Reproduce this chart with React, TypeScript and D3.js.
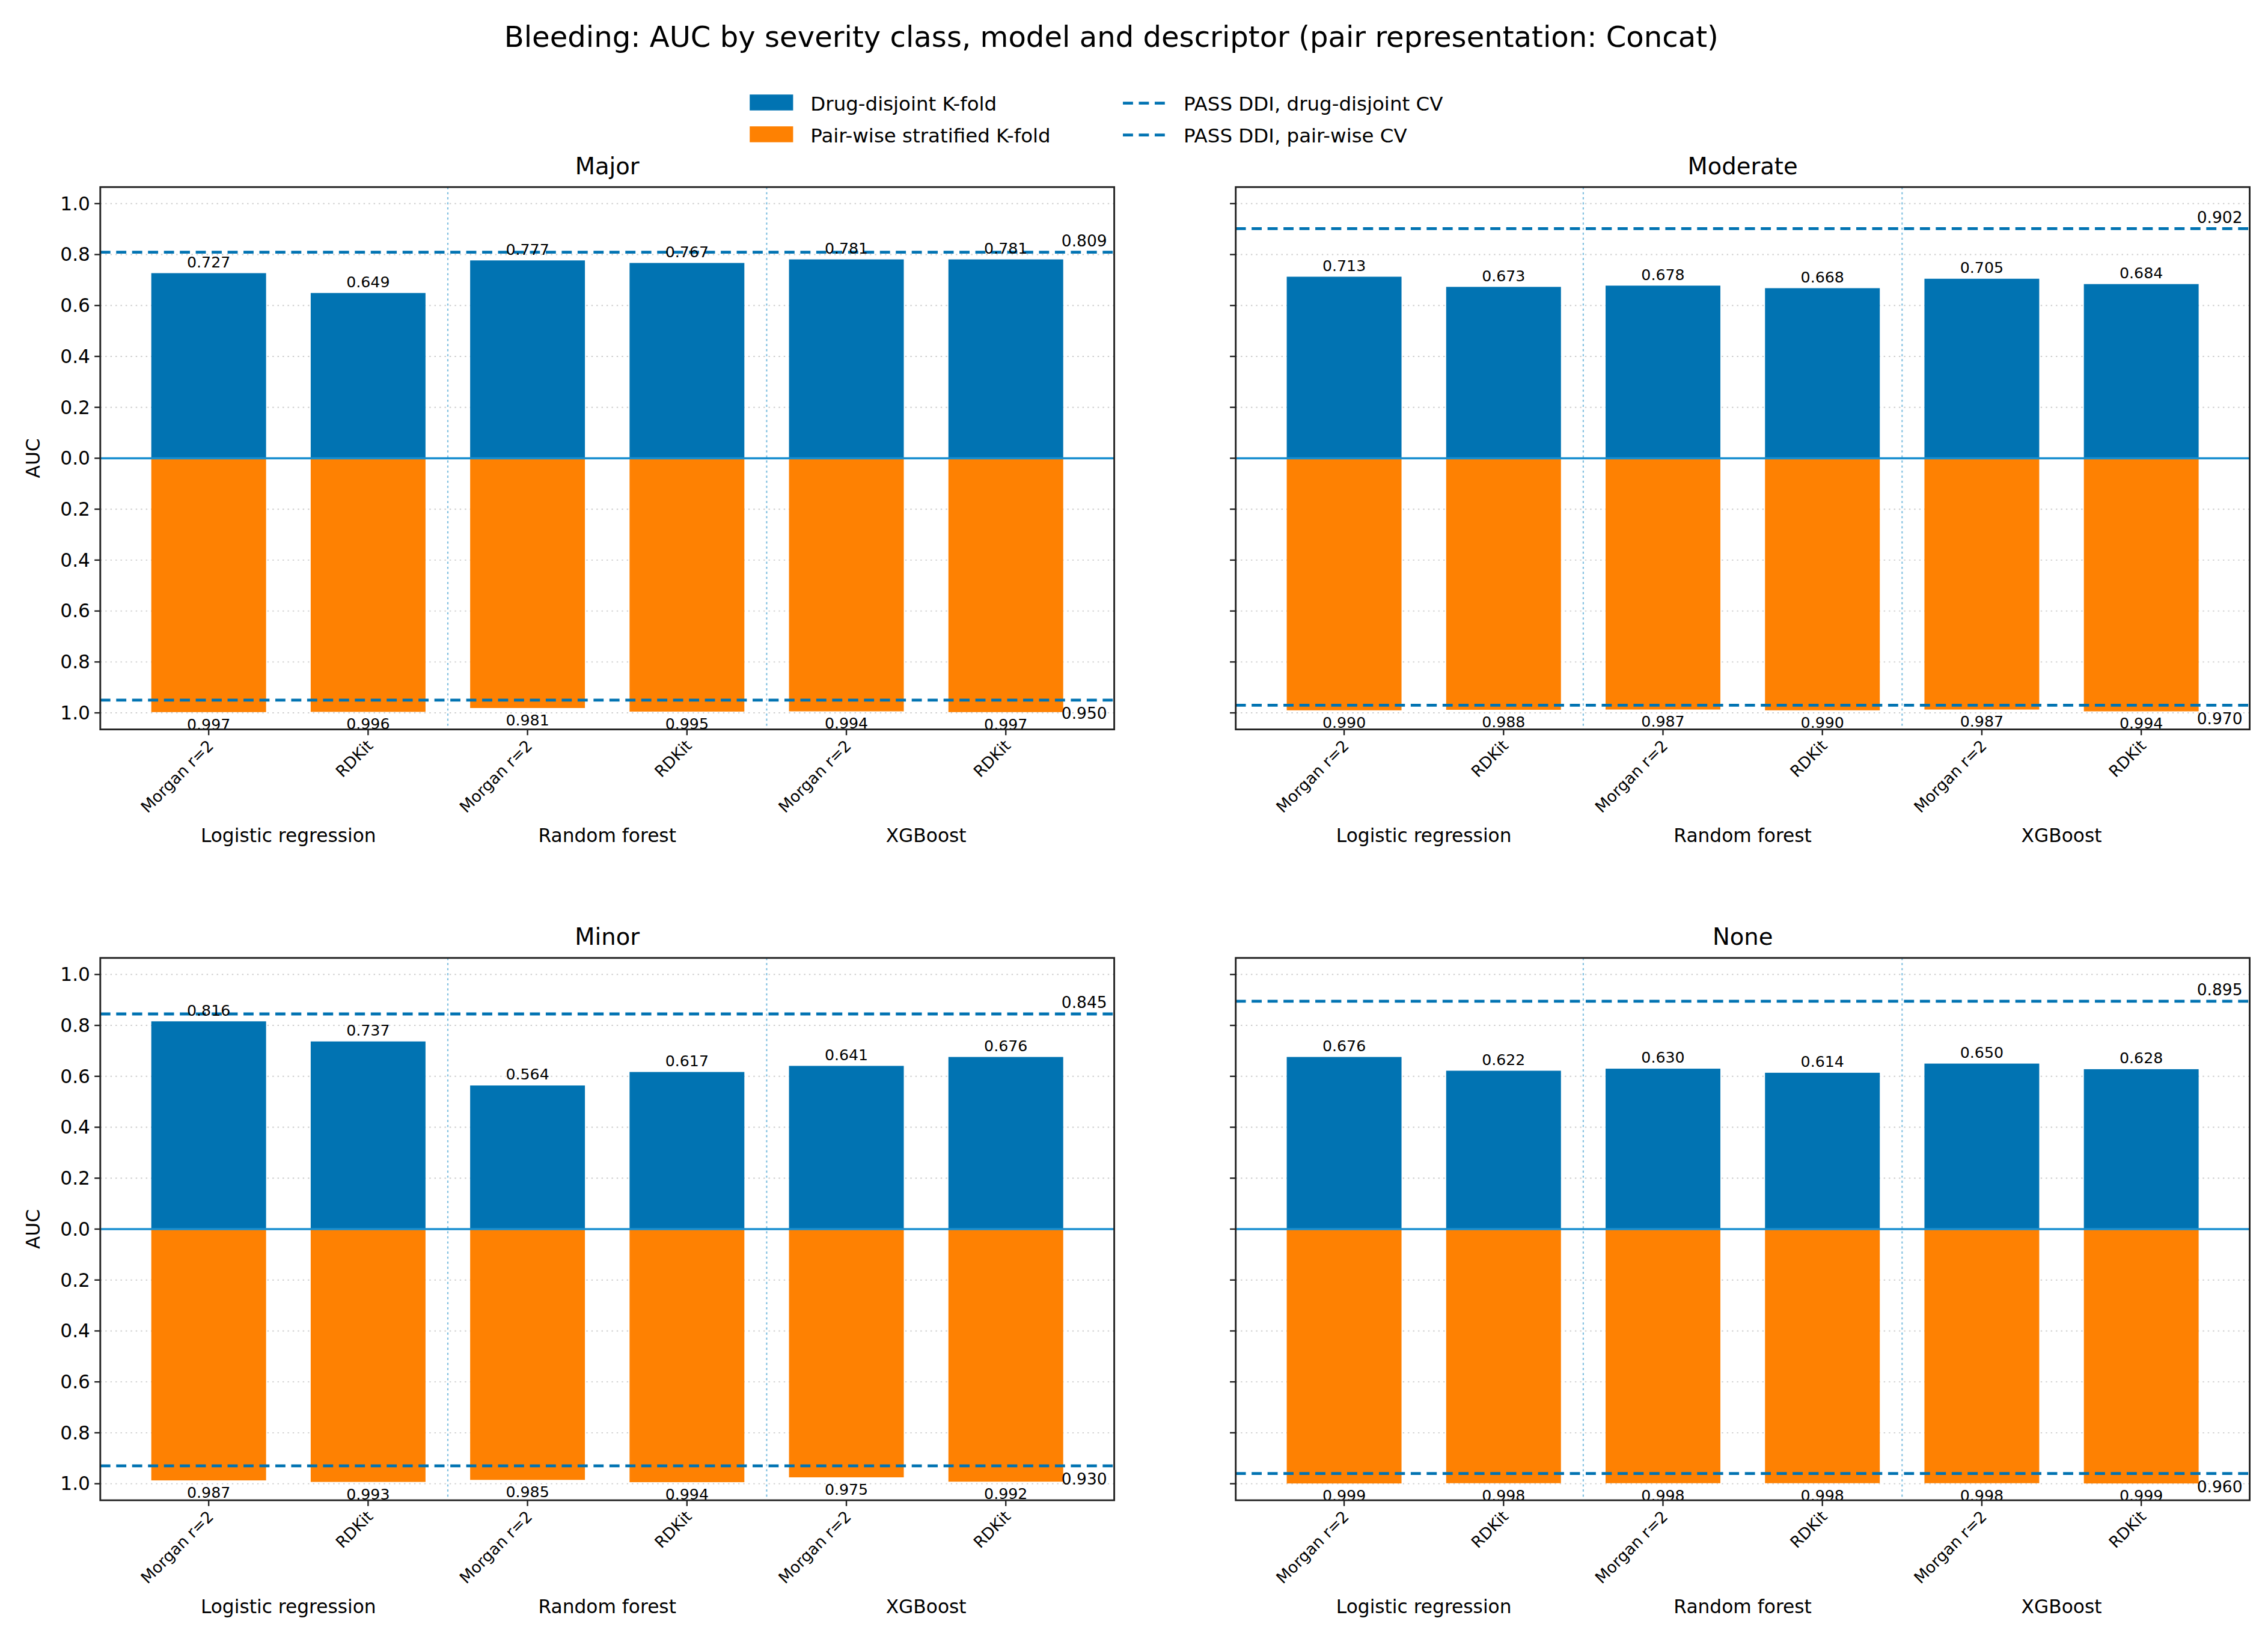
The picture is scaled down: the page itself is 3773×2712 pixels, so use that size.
import React from 'react';
import * as d3 from 'd3';

const descriptors = ['Morgan r=2', 'RDKit', 'Morgan r=2', 'RDKit', 'Morgan r=2', 'RDKit'];
const models = ['Logistic regression', 'Random forest', 'XGBoost'];
const panelNames = ['Major', 'Moderate', 'Minor', 'None'];
const drugDisjoint = [
  [0.727, 0.649, 0.777, 0.767, 0.781, 0.781],
  [0.713, 0.673, 0.678, 0.668, 0.705, 0.684],
  [0.816, 0.737, 0.564, 0.617, 0.641, 0.676],
  [0.676, 0.622, 0.630, 0.614, 0.650, 0.628],
];
const pairWise = [
  [0.997, 0.996, 0.981, 0.995, 0.994, 0.997],
  [0.990, 0.988, 0.987, 0.990, 0.987, 0.994],
  [0.987, 0.993, 0.985, 0.994, 0.975, 0.992],
  [0.999, 0.998, 0.998, 0.998, 0.998, 0.999],
];
const passDrug = [0.809, 0.902, 0.845, 0.895];
const passPair = [0.950, 0.970, 0.930, 0.960];
const yTicks = [1.0, 0.8, 0.6, 0.4, 0.2, 0.0, -0.2, -0.4, -0.6, -0.8, -1.0];

const BLUE = '#0173b2';
const ORANGE = '#fe8102';
const FONT = 'DejaVu Sans, sans-serif';

const PW = 701, PH = 375;
const panelPos = [[66, 126], [851, 126], [66, 659], [851, 659]];

function Panel({ i }: { i: number }) {
  const [ox, oy] = panelPos[i];
  const x = d3.scaleLinear().domain([-0.68, 5.68]).range([0, PW]);
  const y = d3.scaleLinear().domain([1.065, -1.065]).range([0, PH]);
  const bw = x(0.36) - x(0);
  const left = i % 2 === 0;
  return (
    <g transform={`translate(${ox},${oy})`}>
      {yTicks.map((t) => (
        <line key={'g' + t} x1={0} x2={PW} y1={y(t)} y2={y(t)} stroke="#cccccc" strokeWidth={0.8} strokeDasharray="1,2.5" />
      ))}
      {[1.5, 3.5].map((s) => (
        <line key={'s' + s} x1={x(s)} x2={x(s)} y1={0} y2={PH} stroke="#7fbfe0" strokeWidth={0.9} strokeDasharray="1.5,2" />
      ))}
      {drugDisjoint[i].map((v, k) => (
        <rect key={'b' + k} x={x(k) - bw} width={2 * bw} y={y(v)} height={y(0) - y(v)} fill={BLUE} />
      ))}
      {pairWise[i].map((v, k) => (
        <rect key={'o' + k} x={x(k) - bw} width={2 * bw} y={y(0)} height={y(-v) - y(0)} fill={ORANGE} />
      ))}
      <line x1={0} x2={PW} y1={y(0)} y2={y(0)} stroke="#1a8fd0" strokeWidth={1.5} />
      <line x1={0} x2={PW} y1={y(passDrug[i])} y2={y(passDrug[i])} stroke={BLUE} strokeWidth={2} strokeDasharray="7,4" />
      <line x1={0} x2={PW} y1={y(-passPair[i])} y2={y(-passPair[i])} stroke={BLUE} strokeWidth={2} strokeDasharray="7,4" />
      <text x={PW - 5} y={y(passDrug[i]) - 4} textAnchor="end" fontSize={11} fontFamily={FONT}>{passDrug[i].toFixed(3)}</text>
      <text x={PW - 5} y={y(-passPair[i]) + 13} textAnchor="end" fontSize={11} fontFamily={FONT}>{passPair[i].toFixed(3)}</text>
      {drugDisjoint[i].map((v, k) => (
        <text key={'tb' + k} x={x(k)} y={y(v) - 4} textAnchor="middle" fontSize={10.5} fontFamily={FONT}>{v.toFixed(3)}</text>
      ))}
      {pairWise[i].map((v, k) => (
        <text key={'to' + k} x={x(k)} y={y(-v) + 12} textAnchor="middle" fontSize={10.5} fontFamily={FONT}>{v.toFixed(3)}</text>
      ))}
      <rect x={0} y={0} width={PW} height={PH} fill="none" stroke="#222" strokeWidth={1.2} />
      {yTicks.map((t) => (
        <g key={'t' + t}>
          <line x1={-4} x2={0} y1={y(t)} y2={y(t)} stroke="#222" />
          {left && (
            <text x={-7} y={y(t) + 4.5} textAnchor="end" fontSize={13} fontFamily={FONT}>{Math.abs(t).toFixed(1)}</text>
          )}
        </g>
      ))}
      {descriptors.map((d, k) => (
        <g key={'x' + k}>
          <line x1={x(k)} x2={x(k)} y1={PH} y2={PH + 4} stroke="#222" />
          <text transform={`translate(${x(k) + 4},${PH + 12}) rotate(-45)`} textAnchor="end" fontSize={11} fontFamily={FONT}>{d}</text>
        </g>
      ))}
      {models.map((m, g) => (
        <text key={'m' + g} x={x(2 * g + 0.5)} y={PH + 78} textAnchor="middle" fontSize={13} fontFamily={FONT}>{m}</text>
      ))}
      <text x={PW / 2} y={-9} textAnchor="middle" fontSize={16} fontFamily={FONT}>{panelNames[i]}</text>
      {left && (
        <text transform={`translate(-42,${PH / 2}) rotate(-90)`} textAnchor="middle" fontSize={13} fontFamily={FONT}>AUC</text>
      )}
    </g>
  );
}

export default function App() {
  return (
    <svg width={3773} height={2712} viewBox="0 0 1568 1127" style={{ display: 'block', background: '#fff' }}>
      <rect width={1568} height={1127} fill="#fff" />
      <text x={765} y={29} textAnchor="middle" fontSize={20} fontFamily={FONT}>
        Bleeding: AUC by severity class, model and descriptor (pair representation: Concat)
      </text>
      <g fontFamily={FONT} fontSize={13.5}>
        <rect x={515} y={62} width={30} height={11} fill={BLUE} />
        <text x={557} y={73}>Drug-disjoint K-fold</text>
        <rect x={515} y={84} width={30} height={11} fill={ORANGE} />
        <text x={557} y={95}>Pair-wise stratified K-fold</text>
        <line x1={773} x2={803} y1={68} y2={68} stroke={BLUE} strokeWidth={2} strokeDasharray="7,4" />
        <text x={815} y={73}>PASS DDI, drug-disjoint CV</text>
        <line x1={773} x2={803} y1={90} y2={90} stroke={BLUE} strokeWidth={2} strokeDasharray="7,4" />
        <text x={815} y={95}>PASS DDI, pair-wise CV</text>
      </g>
      {panelNames.map((_, i) => <Panel key={i} i={i} />)}
    </svg>
  );
}
